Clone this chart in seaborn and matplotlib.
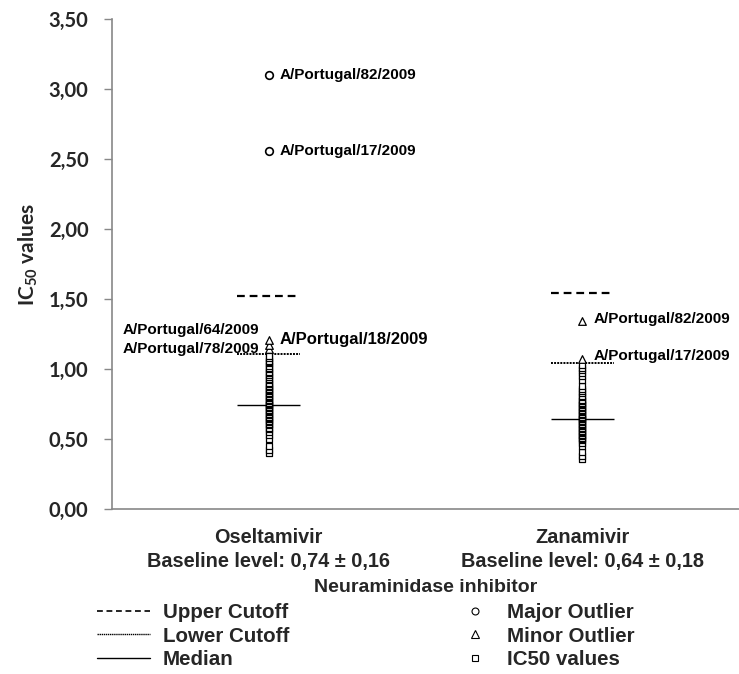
import matplotlib
matplotlib.use('Agg')
import numpy as np
import pandas as pd
import seaborn as sns
import matplotlib.pyplot as plt
from matplotlib.lines import Line2D
from matplotlib.ticker import FuncFormatter

# Categories and summary levels
drugs = ['Oseltamivir', 'Zanamivir']
baseline = ['0,74 \u00b1 0,16', '0,64 \u00b1 0,18']
upper_cutoff = [1.52, 1.54]
lower_cutoff = [1.11, 1.04]
median = [0.74, 0.64]

# IC50 values
osel_values = [0.40, 0.42, 0.45, 0.50, 0.53, 0.55, 0.57, 0.58, 0.60, 0.61, 0.62, 0.63,
               0.64, 0.65, 0.66, 0.67, 0.68, 0.69, 0.70, 0.71, 0.72, 0.73, 0.74, 0.74,
               0.75, 0.76, 0.77, 0.78, 0.79, 0.80, 0.81, 0.82, 0.83, 0.84, 0.85, 0.86,
               0.87, 0.88, 0.89, 0.90, 0.92, 0.93, 0.94, 0.96, 0.97, 0.98, 1.00, 1.01,
               1.02, 1.04, 1.05, 1.06, 1.08, 1.09]
zana_values = [0.36, 0.38, 0.41, 0.45, 0.47, 0.49, 0.50, 0.51, 0.52, 0.53, 0.54, 0.55,
               0.56, 0.57, 0.58, 0.59, 0.60, 0.61, 0.62, 0.63, 0.64, 0.64, 0.65, 0.66,
               0.67, 0.68, 0.69, 0.70, 0.71, 0.72, 0.73, 0.74, 0.75, 0.76, 0.77, 0.78,
               0.80, 0.81, 0.83, 0.84, 0.86, 0.88, 0.92, 0.95, 0.97, 0.99, 1.01, 1.03]
osel_minor = [1.14, 1.17, 1.21]
zana_minor = [1.07, 1.34]
osel_major = [2.56, 3.10]

# Outlier labels: (drug, value, label, side, dy in points, fontsize)
outlier_labels = [
    ('Oseltamivir', 3.10, 'A/Portugal/82/2009', 'right', 0, 11),
    ('Oseltamivir', 2.56, 'A/Portugal/17/2009', 'right', 0, 11),
    ('Oseltamivir', 1.21, 'A/Portugal/18/2009', 'right', 0, 12),
    ('Oseltamivir', 1.21, 'A/Portugal/64/2009', 'left', 7, 11),
    ('Oseltamivir', 1.14, 'A/Portugal/78/2009', 'left', 0, 11),
    ('Zanamivir', 1.34, 'A/Portugal/82/2009', 'right', 2, 11),
    ('Zanamivir', 1.07, 'A/Portugal/17/2009', 'right', 2, 11),
]

sns.set_style('white')
narrow = ['Liberation Sans Narrow', 'Liberation Sans', 'DejaVu Sans']
plt.rcParams['font.family'] = ['Liberation Sans', 'DejaVu Sans']
plt.rcParams['mathtext.fontset'] = 'custom'
plt.rcParams['mathtext.rm'] = 'Lato:bold'
plt.rcParams['mathtext.default'] = 'rm'

normal_df = pd.DataFrame({'drug': ['Oseltamivir'] * len(osel_values) + ['Zanamivir'] * len(zana_values),
                          'value': osel_values + zana_values})
minor_df = pd.DataFrame({'drug': ['Oseltamivir'] * len(osel_minor) + ['Zanamivir'] * len(zana_minor),
                         'value': osel_minor + zana_minor})
major_df = pd.DataFrame({'drug': ['Oseltamivir'] * len(osel_major), 'value': osel_major})

fig = plt.figure(figsize=(7.39, 6.74), dpi=100)
ax = fig.add_axes([112 / 739, 165 / 674, 627 / 739, 490 / 674])

sns.stripplot(data=normal_df, x='drug', y='value', order=drugs, jitter=False, marker='s',
              color='white', edgecolor='black', linewidth=0.9, size=5, ax=ax, zorder=3)
sns.stripplot(data=minor_df, x='drug', y='value', order=drugs, jitter=False, marker='^',
              color='white', edgecolor='black', linewidth=0.9, size=5.5, ax=ax, zorder=3)
sns.stripplot(data=major_df, x='drug', y='value', order=drugs, jitter=False, marker='o',
              color='white', edgecolor='black', linewidth=1.2, size=5.5, ax=ax, zorder=3)

# cutoff and median lines across each category
half = 0.1
for i in range(len(drugs)):
    ax.hlines(upper_cutoff[i], i - half, i + half, colors='black', linestyles=(0, (3.5, 2.2)), linewidth=1.6)
    ax.hlines(lower_cutoff[i], i - half, i + half, colors='black', linestyles=(0, (1, 0.6)), linewidth=1.4)
    ax.hlines(median[i], i - half, i + half, colors='black', linestyles='solid', linewidth=1)

for drug, val, text, side, dy, fs in outlier_labels:
    i = drugs.index(drug)
    dx = 8 if side == 'right' else -7
    ax.annotate(text, xy=(i, val), xytext=(dx, dy), textcoords='offset points',
                ha='left' if side == 'right' else 'right', va='center',
                fontsize=fs, fontweight='bold', color='black')

ax.set_xlim(-0.5, 1.47)
ax.set_ylim(0, 3.5)
ax.set_yticks(np.arange(0, 3.51, 0.5))
ax.yaxis.set_major_formatter(FuncFormatter(lambda v, p: f'{v:.2f}'.replace('.', ',')))
for lab in ax.get_yticklabels():
    lab.set_fontfamily('Lato')
    lab.set_fontweight('bold')
    lab.set_fontsize(14.5)

ax.set_xticks([0, 1])
ax.set_xticklabels([f'{d}\nBaseline level: {b}' for d, b in zip(drugs, baseline)],
                   fontsize=14.3, fontweight='bold', family=narrow, linespacing=1.3)
ax.set_xticks([-0.5, 0.5, 1.5], minor=True)
ax.tick_params(axis='x', which='major', length=0, pad=14)
ax.tick_params(axis='x', which='minor', length=6, width=1, color='#888888', direction='out')
ax.tick_params(axis='y', length=6, width=1, color='#888888', direction='out', pad=11, left=True)

ax.set_xlabel('Neuraminidase inhibitor', fontsize=14, fontweight='bold', family=narrow, labelpad=6)
ax.set_ylabel('IC$_{50}$ values', fontsize=15, family='Lato', fontweight='bold')
ax.yaxis.set_label_coords(-0.115, 0.52)

for side in ['top', 'right']:
    ax.spines[side].set_visible(False)
for side in ['left', 'bottom']:
    ax.spines[side].set_color('#888888')
    ax.spines[side].set_linewidth(1.2)

line_handles = [
    Line2D([], [], color='black', linestyle=(0, (3.5, 2.2)), linewidth=1.2),
    Line2D([], [], color='black', linestyle=(0, (1, 0.5)), linewidth=1.0),
    Line2D([], [], color='black', linestyle='solid', linewidth=1.0),
]
marker_handles = [
    Line2D([], [], linestyle='none', marker='o', markersize=5, markerfacecolor='white', markeredgecolor='black', markeredgewidth=0.8),
    Line2D([], [], linestyle='none', marker='^', markersize=6, markerfacecolor='white', markeredgecolor='black', markeredgewidth=0.8),
    Line2D([], [], linestyle='none', marker='s', markersize=5, markerfacecolor='white', markeredgecolor='black', markeredgewidth=0.8),
]
leg_font = {'family': narrow, 'weight': 'bold', 'size': 14.8}
leg1 = fig.legend(line_handles, ['Upper Cutoff', 'Lower Cutoff', 'Median'], loc='upper left',
                  bbox_to_anchor=(97 / 739, 1 - 603 / 674), frameon=False, prop=leg_font,
                  handlelength=2.6, handletextpad=0.6, labelspacing=0.22, borderpad=0, borderaxespad=0)
leg2 = fig.legend(marker_handles, ['Major Outlier', 'Minor Outlier', 'IC50 values'], loc='upper left',
                  bbox_to_anchor=(465 / 739, 1 - 603 / 674), frameon=False, prop=leg_font,
                  handlelength=1.0, handletextpad=1.05, labelspacing=0.22, borderpad=0, borderaxespad=0)

fig.savefig('out.png', dpi=100)
